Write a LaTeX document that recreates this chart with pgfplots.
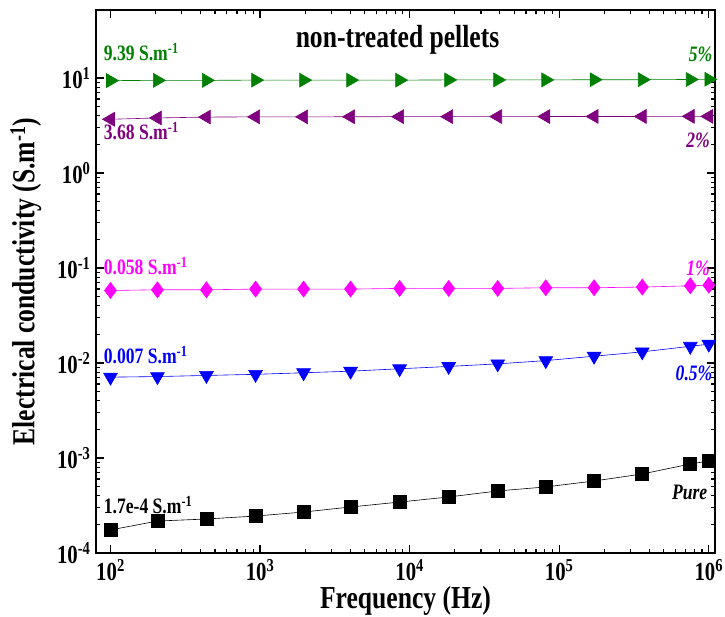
\documentclass[border=0pt]{standalone}
\usepackage{fontspec}
\setmainfont{Liberation Serif}[FakeStretch=0.8]
\usepackage{pgfplots}
\pgfplotsset{compat=1.18}
\definecolor{cgreen}{RGB}{0,128,0}
\definecolor{cpurple}{RGB}{128,0,128}
\definecolor{cmag}{RGB}{255,0,255}
\definecolor{cblue}{RGB}{0,0,255}
\begin{document}
\begin{tikzpicture}
\useasboundingbox (-96pt,-63pt) rectangle (629pt,553pt);
\begin{axis}[at={(0pt,0pt)}, anchor=south west, scale only axis,
  width=619pt, height=543pt,
  xmode=log, ymode=log, xmin=80, xmax=1.1e6, ymin=1e-4, ymax=52,
  axis line style={line width=1.8pt},
  tick style={line width=1.2pt, black},
  major tick length=8pt, minor tick length=4.5pt, tick align=inside,
  xtick={1e2,1e3,1e4,1e5,1e6},
  xticklabels={10\textsuperscript{2},10\textsuperscript{3},10\textsuperscript{4},10\textsuperscript{5},10\textsuperscript{6}},
  ytick={1e-4,1e-3,1e-2,1e-1,1,10},
  yticklabels={10\textsuperscript{-4},10\textsuperscript{-3},10\textsuperscript{-2},10\textsuperscript{-1},10\textsuperscript{0},10\textsuperscript{1}},
  ticklabel style={font=\fontsize{26}{28}\selectfont\bfseries},
  xticklabel style={yshift=-3pt},
  yticklabel style={xshift=-2pt},
  xlabel={Frequency (Hz)}, ylabel={Electrical conductivity (S.m\textsuperscript{-1})},
  label style={font=\fontsize{32}{34}\selectfont\bfseries},
  xlabel style={yshift=1pt},
  ylabel style={yshift=9pt},
  clip=false,
]
\addplot[black, line width=0.6pt, mark=square*, mark size=6.5pt, mark options={solid, fill=black}] coordinates {
(100,1.75e-4) (206,2.17e-4) (438,2.28e-4) (933,2.45e-4) (1954,2.7e-4) (4027,3.05e-4) (8570,3.44e-4) (18240,3.89e-4) (38800,4.5e-4) (81300,4.96e-4) (171000,5.73e-4) (359000,6.79e-4) (752000,8.65e-4) (1000000,9.3e-4)};
\addplot[cblue, line width=0.6pt, mark=triangle*, mark size=8pt, mark options={solid, fill=cblue, rotate=180}] coordinates {
(100,0.0071) (206,0.0072) (438,0.0074) (933,0.0076) (1954,0.0079) (4027,0.0082) (8570,0.0087) (18240,0.0092) (38800,0.0098) (81300,0.0106) (171000,0.0118) (359000,0.0131) (752000,0.0150) (1000000,0.0158)};
\addplot[cmag, line width=0.6pt, mark=diamond*, mark size=8pt, mark options={solid, fill=cmag}] coordinates {
(100,0.058) (206,0.059) (438,0.059) (933,0.060) (1954,0.060) (4027,0.060) (8570,0.061) (18240,0.061) (38800,0.061) (81300,0.062) (171000,0.062) (359000,0.063) (752000,0.065) (1000000,0.066)};
\addplot[cpurple, line width=0.6pt, mark=triangle*, mark size=8pt, mark options={solid, fill=cpurple, rotate=90}] coordinates {
(100,3.68) (206,3.80) (438,3.88) (933,3.90) (1954,3.90) (4027,3.91) (8570,3.92) (18240,3.92) (38800,3.93) (81300,3.93) (171000,3.94) (359000,3.94) (752000,3.95) (1000000,3.95)};
\addplot[cgreen, line width=0.6pt, mark=triangle*, mark size=8pt, mark options={solid, fill=cgreen, rotate=-90}] coordinates {
(100,9.39) (206,9.45) (438,9.45) (933,9.5) (1954,9.5) (4027,9.5) (8570,9.5) (18240,9.55) (38800,9.55) (81300,9.55) (171000,9.6) (359000,9.6) (752000,9.65) (1000000,9.7)};
\node[font=\fontsize{32}{34}\selectfont\bfseries] at (axis cs:8300,25) {non-treated pellets};
\begin{scope}[every node/.style={font=\fontsize{22}{24}\selectfont\bfseries}]
\node[anchor=west, text=cgreen, inner sep=0pt] at (axis cs:90,18.8) {9.39 S.m\textsuperscript{-1}};
\node[anchor=west, text=cpurple, inner sep=0pt] at (axis cs:90,2.77) {3.68 S.m\textsuperscript{-1}};
\node[anchor=west, text=cmag, inner sep=0pt] at (axis cs:90,0.105) {0.058 S.m\textsuperscript{-1}};
\node[anchor=west, text=cblue, inner sep=0pt] at (axis cs:90,0.0121) {0.007 S.m\textsuperscript{-1}};
\node[anchor=west, text=black, inner sep=0pt] at (axis cs:90,3.2e-4) {1.7e-4 S.m\textsuperscript{-1}};
\node[anchor=east, text=cgreen, inner sep=0pt, font=\fontsize{22}{24}\selectfont\bfseries\itshape] at (axis cs:1.06e6,17.9) {5\%};
\node[anchor=east, text=cpurple, inner sep=0pt, font=\fontsize{22}{24}\selectfont\bfseries\itshape] at (axis cs:1.02e6,2.22) {2\%};
\node[anchor=east, text=cmag, inner sep=0pt, font=\fontsize{22}{24}\selectfont\bfseries\itshape] at (axis cs:1.02e6,0.1) {1\%};
\node[anchor=east, text=cblue, inner sep=0pt, font=\fontsize{22}{24}\selectfont\bfseries\itshape] at (axis cs:1.06e6,0.00785) {0.5\%};
\node[anchor=east, text=black, inner sep=0pt, font=\fontsize{22}{24}\selectfont\bfseries\itshape] at (axis cs:0.98e6,4.38e-4) {Pure};
\end{scope}
\end{axis}
\end{tikzpicture}
\end{document}
